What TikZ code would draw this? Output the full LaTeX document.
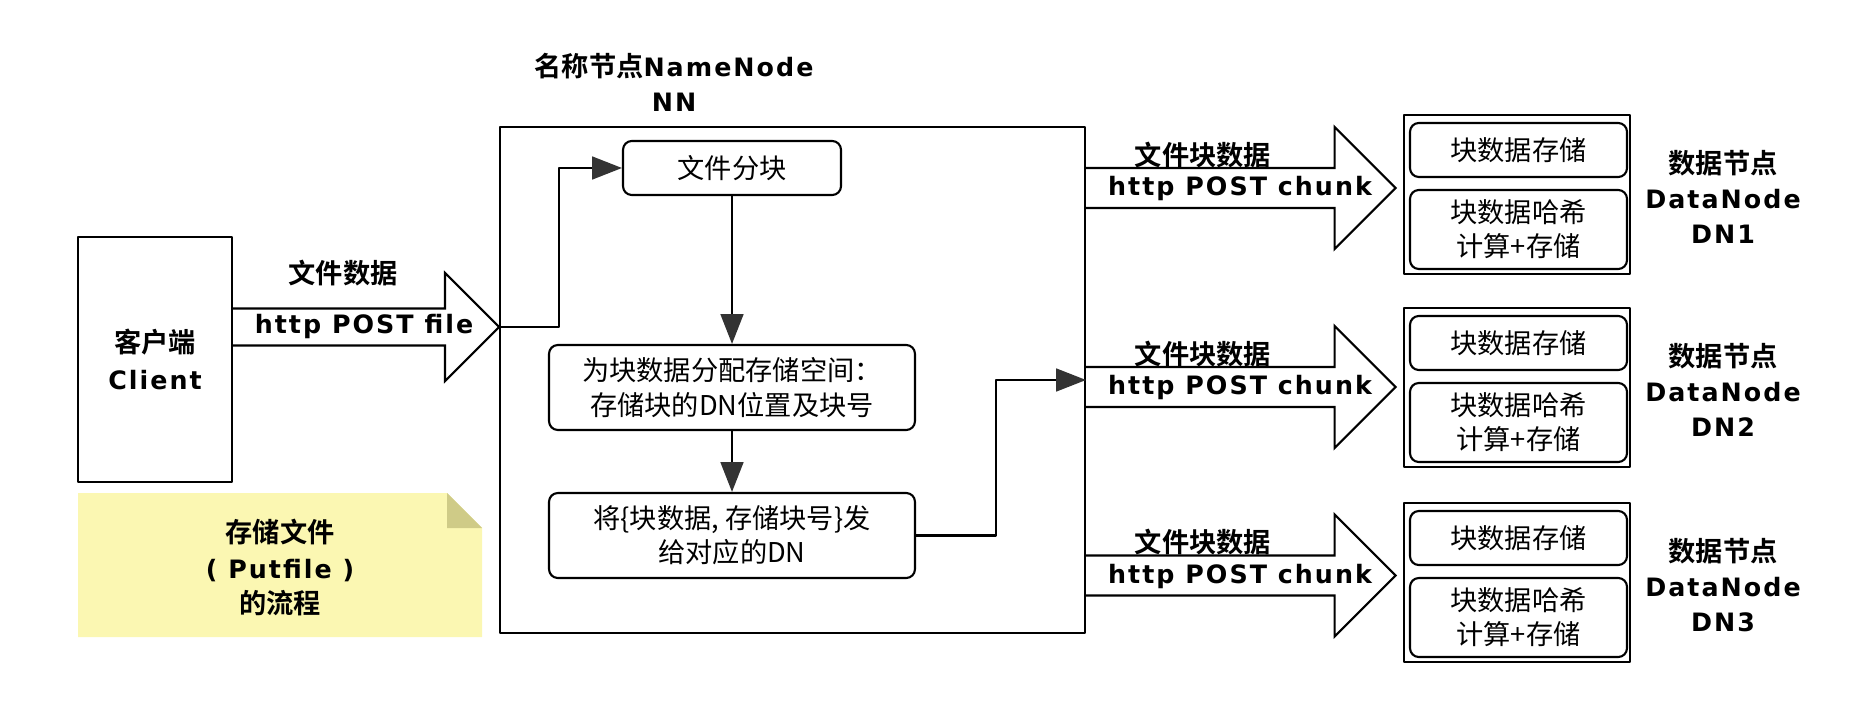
\documentclass[tikz,border=0pt]{standalone}
\usepackage{fontspec}
\setmainfont{DejaVu Sans}[LetterSpace=8,Scale=0.93]
\newfontfamily\cjk{Noto Sans CJK SC}[BoldFont={Noto Sans CJK SC Bold}]
\usetikzlibrary{arrows.meta,calc}
\definecolor{notefill}{RGB}{251,247,178}
\definecolor{notefold}{RGB}{207,203,135}
% hollow block arrow: from, to, half shaft, half head, head length
\newcommand{\fatarrow}[5]{%
  \draw[fat] ($(#1)+(0,-#3)$) -- ($(#2)+(-#5,-#3)$) -- ($(#2)+(-#5,-#4)$) -- (#2)
    -- ($(#2)+(-#5,#4)$) -- ($(#2)+(-#5,#3)$) -- ($(#1)+(0,#3)$);}
\begin{document}
\begin{tikzpicture}[>={Triangle[length=17pt,width=13pt,color=black!80]},line join=round,
  x=0.02cm,y=-0.02cm,font=\fontsize{15.5}{19.5}\selectfont,
  box/.style={draw,line width=1.2pt,inner sep=0pt,align=center},
  rbox/.style={box,rounded corners=5pt,font=\fontsize{15.5}{19.5}\selectfont\cjk},
  fat/.style={line width=1.2pt,line join=miter},
  conn/.style={line width=1.2pt,->},
  lbl/.style={inner sep=0pt,align=center,font=\fontsize{15.5}{20}\selectfont\bfseries}]
  \useasboundingbox (0,0) rectangle (1872,702);
  % client and note
  \node[box,line width=1.4pt,minimum width=3.08cm,minimum height=4.9cm,
    font=\fontsize{15.5}{21}\selectfont\bfseries] (client) at (155,359.5) {{\cjk 客户端}\\Client};
  \fill[notefill] (78,493) -- (447,493) -- (482,528) -- (482,637) -- (78,637) -- cycle;
  \fill[notefold] (447,493) -- (482,528) -- (447,528) -- cycle;
  \node[lbl] (note) at (280,567.5) {{\cjk 存储文件}\\( Putfile )\\{\cjk 的流程}};
  % name node
  \node[box,minimum width=11.7cm,minimum height=10.12cm] (nn) at (792.5,380) {};
  \node[lbl] (nntitle) at (674,82.5) {{\cjk 名称节点}NameNode\\NN};
  \node[rbox,minimum width=4.36cm,minimum height=1.08cm] (split) at (732,168) {文件分块};
  \node[rbox,minimum width=7.32cm,minimum height=1.7cm] (alloc) at (732,387.5) {为块数据分配存储空间：\\存储块的DN位置及块号};
  \node[rbox,minimum width=7.32cm,minimum height=1.7cm] (send) at (732,535.5) {将\{块数据, 存储块号\}发\\给对应的DN};
  % file arrow
  \path (client.east|-0,327) coordinate (fa0) (nn.west|-0,327) coordinate (fa1);
  \fatarrow{fa0}{fa1}{18.5}{54}{54}
  \node[lbl] (filelbl) at (343,273) {{\cjk 文件数据}};
  \node[lbl] (filehttp) at (364,327) {http POST file};
  % data nodes
  \foreach \i/\t/\a in {1/115/188,2/308/387,3/503/575.5}{
    \node[box,line width=1.6pt,minimum width=4.52cm,minimum height=3.18cm] (dn\i) at (1517,\t+79.5) {};
    \node[rbox,minimum width=4.34cm,minimum height=1.08cm] (store\i) at (1518.5,\t+35) {块数据存储};
    \node[rbox,minimum width=4.34cm,minimum height=1.58cm] (hash\i) at (1518.5,\t+114.5) {块数据哈希\\计算+存储};
    \node[lbl] (dnlbl\i) at (1723,\t+82) {{\cjk 数据节点}\\DataNode\\DN\i};
    \path (nn.east|-0,\a) coordinate (ca\i) ($(dn\i.west|-0,\a)+(-7,0)$) coordinate (cb\i);
    \fatarrow{ca\i}{cb\i}{20}{61}{61}
    \node[lbl] (chlbl\i) at (1203,\a-33) {{\cjk 文件块数据}};
    \node[lbl] (chhttp\i) at (1240,\a+1) {http POST chunk};
  }
  % flow inside NN
  \coordinate (c2in) at (nn.east|-0,380);
  \draw[conn] (fa1) -- ++(60,0) |- (split.west);
  \draw[conn] (split) -- (alloc);
  \draw[conn] (alloc) -- (send);
  \draw[conn] (send.east) -- ++(80,0) |- (c2in);
\end{tikzpicture}
\end{document}
